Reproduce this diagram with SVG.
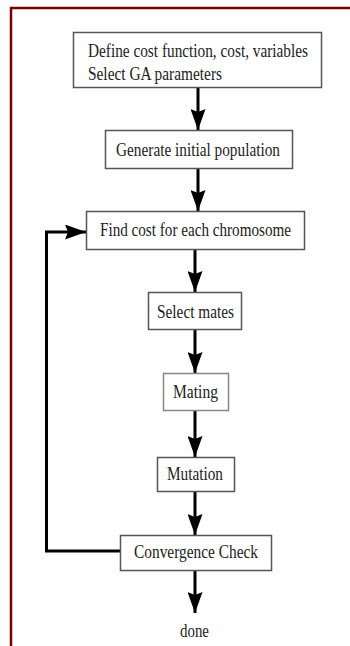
<svg xmlns="http://www.w3.org/2000/svg" width="350" height="646" viewBox="0 0 350 646">
<style>
.box{fill:#fff;stroke:#555;stroke-width:1.5}
.t{font-family:"Liberation Serif","Times New Roman",serif;font-size:18px;fill:#222;text-anchor:middle}
.s{text-anchor:start}
.c{fill:none;stroke:#000;stroke-width:3}
</style>
<defs>
<marker id="ah" markerWidth="21" markerHeight="15" refX="21" refY="7.5" viewBox="0 0 21 15" markerUnits="userSpaceOnUse" orient="auto">
<path d="M0,0 L21,7.5 L0,15 L3,7.5 Z" fill="#000"/>
</marker>
</defs>
<rect x="0" y="0" width="350" height="646" fill="#fefefe"/>
<path d="M11,646 V8 H350" fill="none" stroke="#7a0000" stroke-width="2.5"/>
<g id="connectors">
<line class="c" x1="198" y1="88" x2="198" y2="130" marker-end="url(#ah)"/>
<line class="c" x1="198" y1="169" x2="198" y2="211" marker-end="url(#ah)"/>
<line class="c" x1="195" y1="250" x2="195" y2="292" marker-end="url(#ah)"/>
<line class="c" x1="195" y1="330" x2="195" y2="373" marker-end="url(#ah)"/>
<line class="c" x1="195" y1="411" x2="195" y2="457" marker-end="url(#ah)"/>
<line class="c" x1="195" y1="492" x2="195" y2="535" marker-end="url(#ah)"/>
<line class="c" x1="195" y1="571" x2="195" y2="613" marker-end="url(#ah)"/>
<polyline class="c" points="120,551 46.5,551 46.5,232 86,232" marker-end="url(#ah)"/>
</g>
<g id="n1"><rect class="box" x="73.5" y="32.5" width="248" height="55"/>
<text class="t s" x="88" y="57" textLength="220" lengthAdjust="spacingAndGlyphs">Define cost function, cost, variables</text>
<text class="t s" x="88" y="80" textLength="134" lengthAdjust="spacingAndGlyphs">Select GA parameters</text></g>
<g id="n2"><rect class="box" x="105.5" y="130.5" width="187" height="38"/>
<text class="t" x="198" y="156" textLength="164" lengthAdjust="spacingAndGlyphs">Generate initial population</text></g>
<g id="n3"><rect class="box" x="86.5" y="211.5" width="218" height="38"/>
<text class="t" x="195.5" y="236" textLength="191" lengthAdjust="spacingAndGlyphs">Find cost for each chromosome</text></g>
<g id="n4"><rect class="box" x="148.5" y="292.5" width="93" height="37"/>
<text class="t" x="195.5" y="318" textLength="77" lengthAdjust="spacingAndGlyphs">Select mates</text></g>
<g id="n5"><rect class="box" x="163.5" y="373.5" width="65" height="37" style="stroke:#888"/>
<text class="t" x="195.5" y="398" textLength="45" lengthAdjust="spacingAndGlyphs">Mating</text></g>
<g id="n6"><rect class="box" x="157.5" y="457.5" width="77" height="34"/>
<text class="t" x="195" y="480" textLength="56" lengthAdjust="spacingAndGlyphs">Mutation</text></g>
<g id="n7"><rect class="box" x="120.5" y="535.5" width="151" height="35"/>
<text class="t" x="196" y="558" textLength="124" lengthAdjust="spacingAndGlyphs">Convergence Check</text></g>
<g id="n8"><text class="t" x="194.5" y="637" textLength="29" lengthAdjust="spacingAndGlyphs">done</text></g>
</svg>
